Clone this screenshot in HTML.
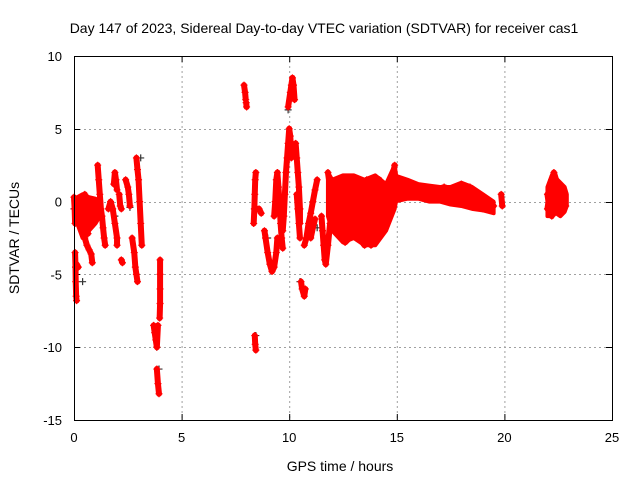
<!DOCTYPE html>
<html><head><meta charset="utf-8"><style>
body{margin:0;background:#fff;}
svg{display:block;font-family:"Liberation Sans",sans-serif;}
</style></head><body>
<svg id="chart" width="640" height="480"></svg>
<script>
const xTicks=[0,5,10,15,20,25];
const yTicks=[10,5,0,-5,-10,-15];
// dense clusters: time, lower envelope, upper envelope
const bandTimes=[[11.8,12.0,12.5,13.0,13.5,14.0,14.5,14.9,15.0],[14.9,15.5,16,16.5,17,17.5,18,18.5,19,19.5],[22.0,22.2,22.4,22.6,22.8,22.9],[0.15,0.4,0.7,1.0,1.2]];
const bandLow=[[-1,-2,-2.8,-2.5,-3,-3,-2,-0.5,0.3],[0,0.2,0.2,0,0,-0.2,-0.3,-0.5,-0.6,-0.8],[-1,-1,-0.8,-1,-0.7,-0.3],[-1.5,-2.5,-2,-1.5,-1]];
const bandHigh=[[2,1.5,1.8,1.8,1.5,1.8,1.2,2.5,1.5],[1.8,1.5,1.2,1.1,1,1,1.3,1,0.5,0],[1,1.8,1.6,1.3,1,0.5],[0.3,0.5,0.3,0.2,0]];
const redTracks=[
[[0,0.3],[0.03,-0.5],[0.05,-1.5]],
[[0.05,-3.5],[0.07,-4.5],[0.08,-5.5],[0.1,-6.5],[0.12,-6.8]],
[[0.12,-4.3],[0.2,-4.5]],
[[0.2,-0.3],[0.3,0],[0.4,-0.5],[0.45,-1.5],[0.5,-2.5],[0.6,-3],[0.7,-3.3],[0.8,-3.6],[0.85,-4.2]],
[[0.3,-1],[0.4,-1.8],[0.5,-0.5],[0.6,0.2],[0.7,-0.3],[0.8,-0.8],[0.9,-0.4],[1.0,-0.2],[1.1,-0.8]],
[[0.5,0.5],[0.55,-0.5],[0.6,-1.5],[0.65,-2.2]],
[[1.1,2.5],[1.15,1.5],[1.2,0.5],[1.25,-0.5],[1.3,-1],[1.35,-1.8],[1.4,-2.5],[1.45,-3]],
[[1.6,-0.5],[1.7,0],[1.8,-0.5],[1.9,-1.5],[2.0,-2.5],[2.0,-3]],
[[1.85,1.2],[1.9,2],[1.95,1.5],[2.0,0.8]],
[[2.1,0.5],[2.15,-0.3],[2.2,-0.5]],
[[2.2,-4],[2.25,-4.2]],
[[2.4,1.5],[2.5,1],[2.55,0.5],[2.6,-0.3]],
[[2.7,-2.5],[2.8,-3.5],[2.85,-4.5],[2.9,-5],[2.95,-5.5]],
[[2.9,3],[2.95,2.2],[3.0,1.5],[3.05,0],[3.1,-1.5],[3.15,-3]],
[[3.7,-8.5],[3.75,-9],[3.8,-9.5],[3.85,-10],[3.9,-8.5]],
[[3.85,-11.5],[3.9,-12.5],[3.95,-13.2]],
[[4.0,-4],[4.0,-5],[4.0,-6],[4.0,-7],[3.98,-8]],
[[7.9,8],[7.95,7.5],[7.98,7]],
[[8.0,6.8],[8.02,6.5]],
[[8.35,-1.5],[8.38,-0.5],[8.4,0.5],[8.42,1.5],[8.45,2]],
[[8.4,-9.2],[8.42,-9.8],[8.45,-10.2]],
[[8.5,-0.5],[8.6,-0.5],[8.7,-0.8]],
[[8.85,-2],[8.9,-2.5],[9.0,-3.5],[9.1,-4.3],[9.2,-4.8],[9.3,-4.5],[9.4,-3.5],[9.45,-2.5]],
[[9.3,-1],[9.35,0],[9.4,1.5],[9.45,2],[9.5,1],[9.55,0],[9.6,-1.5],[9.65,-2.5],[9.7,-3.2]],
[[9.7,-2],[9.75,-1],[9.8,0.5],[9.85,2],[9.9,3],[9.95,4],[10.0,5],[10.05,4.5],[10.1,3]],
[[9.95,6.5],[10.05,7.5],[10.1,8],[10.15,8.5],[10.2,8],[10.25,7]],
[[10.3,4],[10.35,3],[10.4,2],[10.45,1],[10.5,-0.5],[10.5,-1.5]],
[[10.35,0.5],[10.4,-0.5],[10.45,-1.5],[10.5,-2.5]],
[[10.55,-5.5],[10.6,-6],[10.7,-6.5],[10.75,-6]],
[[10.7,-3],[10.8,-2.5],[10.9,-1.5],[11.0,-0.8],[11.1,0],[11.2,0.8],[11.3,1.5]],
[[11.0,-2.5],[11.1,-1.8],[11.2,-1.2]],
[[11.5,-1],[11.55,-2],[11.6,-3],[11.65,-4],[11.7,-4.3],[11.8,-3],[11.9,-1.5],[12.0,-0.5]],
[[11.8,2],[11.9,1],[12.0,0.5],[12.2,1],[12.4,1.5],[12.6,1.2],[12.8,0.8],[13.0,1.5],[13.2,1],[13.4,0.5],[13.6,1.5],[13.8,0.5],[14.0,1],[14.2,1.5]],
[[12.0,-0.5],[12.2,-1.5],[12.4,-2],[12.6,-2.8],[12.8,-2.5],[13.0,-2],[13.2,-1],[13.4,-2],[13.6,-2.5],[13.8,-3],[14.0,-2.5],[14.2,-1.5],[14.4,-1],[14.6,-0.5],[14.8,0.5],[15.0,1]],
[[12.2,0],[12.4,-0.5],[12.6,-1],[12.8,-0.5],[13.0,0],[13.2,-0.5],[13.4,0],[13.6,-1],[13.8,-1.5],[14.0,-1],[14.2,-0.5],[14.4,0],[14.6,0.5],[14.8,1.5],[14.9,2.5]],
[[13.0,-1],[13.2,-2],[13.4,-2.8],[13.5,-3],[13.6,-2],[13.8,-0.5],[14.0,0.5],[14.2,0],[14.4,0.8]],
[[14.8,1.5],[15.2,1.3],[15.6,1],[16,1],[16.4,0.8],[16.8,0.8],[17.2,1],[17.6,0.8],[18,1.2],[18.4,1],[18.8,0.5],[19.2,0],[19.5,-0.3]],
[[15.0,0.3],[15.4,0.5],[15.8,0.5],[16.2,0.3],[16.6,0.2],[17,0.3],[17.4,0],[17.8,0.2],[18.2,-0.2],[18.6,0],[19,-0.5],[19.4,-0.6]],
[[19.85,0.5],[19.9,-0.3]],
[[22.0,-0.5],[22.1,0.5],[22.2,1.5],[22.3,2],[22.4,1.5],[22.5,1],[22.6,0.5],[22.7,0.3],[22.8,0]],
[[22.0,0.5],[22.1,-0.5],[22.2,-1],[22.3,-0.5],[22.4,0],[22.5,-0.3],[22.6,-0.8],[22.7,-0.5],[22.85,-0.3]],
[[22.1,1],[22.3,0.5],[22.5,0.3],[22.7,1],[22.8,0.6]]
];
const blackPoints=[[0,-0.5],[0.4,-5.5],[1.9,-1],[2.6,-0.4],[3.1,3],[3.85,-10],[3.95,-11.5],[8.45,-9.2],[9.0,-2.5],[9.95,6.3],[10.5,-5.5],[11.3,-1.8],[12.3,-1.5]];

const L=74,R=612,T=56,B=420;
const X=t=>L+(t-0)/25*(R-L);
const Y=v=>T+(10-v)/25*(B-T);
const svg=document.getElementById('chart');
const NS='http://www.w3.org/2000/svg';
function mk(tag,attrs,parent){const e=document.createElementNS(NS,tag);for(const k in attrs)e.setAttribute(k,attrs[k]);(parent||svg).appendChild(e);return e;}

const grid=mk('g',{stroke:'#a0a0a0','stroke-dasharray':'2,3','stroke-width':1});


xTicks.forEach(t=>{if(t>0&&t<25)mk('line',{x1:X(t)+0.5,x2:X(t)+0.5,y1:T,y2:B},grid);});
yTicks.forEach(v=>{if(v<10&&v>-15)mk('line',{x1:L,x2:R,y1:Math.round(Y(v))+0.5,y2:Math.round(Y(v))+0.5},grid);});

const xt=mk('g',{'font-size':13,'text-anchor':'middle',fill:'#000'});


xTicks.forEach(t=>{const e=mk('text',{x:X(t),y:B+22},xt);e.textContent=t;});
const yt=mk('g',{'font-size':13,'text-anchor':'end',fill:'#000'});


yTicks.forEach(v=>{const e=mk('text',{x:L-12,y:Y(v)+5},yt);e.textContent=v;});

const ticks=mk('g',{stroke:'#000','stroke-width':1});


xTicks.forEach(t=>{mk('line',{x1:X(t)+0.5,x2:X(t)+0.5,y1:B,y2:B-6},ticks);mk('line',{x1:X(t)+0.5,x2:X(t)+0.5,y1:T,y2:T+6},ticks);});
yTicks.forEach(v=>{mk('line',{x1:L,x2:L+6,y1:Math.round(Y(v))+0.5,y2:Math.round(Y(v))+0.5},ticks);mk('line',{x1:R-6,x2:R,y1:Math.round(Y(v))+0.5,y2:Math.round(Y(v))+0.5},ticks);});

function plusPath(pts){let d='';pts.forEach(([t,v])=>{const x=X(t),y=Y(v);d+=`M${x-3.5},${y}H${x+3.5}M${x},${y-3.5}V${y+3.5}`;});return d;}

const bg=mk('g',{stroke:'#333','stroke-width':1.2,fill:'none'});


mk('path',{d:plusPath(blackPoints)},bg);

const bandG=mk('g',{fill:'#ff0000',stroke:'#ff0000','stroke-width':4,'stroke-linejoin':'round'});


bandTimes.forEach((ts,i)=>{
  const up=ts.map((t,j)=>X(t)+','+Y(bandHigh[i][j]));
  const lo=ts.map((t,j)=>X(t)+','+Y(bandLow[i][j])).reverse();
  mk('polygon',{points:up.concat(lo).join(' ')},bandG);
});

const rg=mk('g',{fill:'none'});


redTracks.forEach(tr=>{
  mk('polyline',{points:tr.map(([t,v])=>X(t)+','+Y(v)).join(' '),stroke:'#ff0000','stroke-width':6,'stroke-linejoin':'round','stroke-linecap':'round',fill:'none'},rg);
  mk('path',{d:plusPath(tr),stroke:'#ff0000','stroke-width':1.2},rg);
});

const fr=mk('rect',{x:L+0.5,y:T+0.5,width:R-L,height:B-T,fill:'none',stroke:'#000','stroke-width':1});



const title=mk('text',{x:324,y:33,'font-size':14,'text-anchor':'middle'});


title.textContent='Day 147 of 2023, Sidereal Day-to-day VTEC variation (SDTVAR) for receiver cas1';
const xl=mk('text',{x:340,y:471,'font-size':14,'text-anchor':'middle'});


xl.textContent='GPS time / hours';
const yl=mk('text',{x:0,y:0,'font-size':14,'text-anchor':'middle',transform:'translate(19,238) rotate(-90)'});


yl.textContent='SDTVAR / TECUs';
</script>
</body></html>
